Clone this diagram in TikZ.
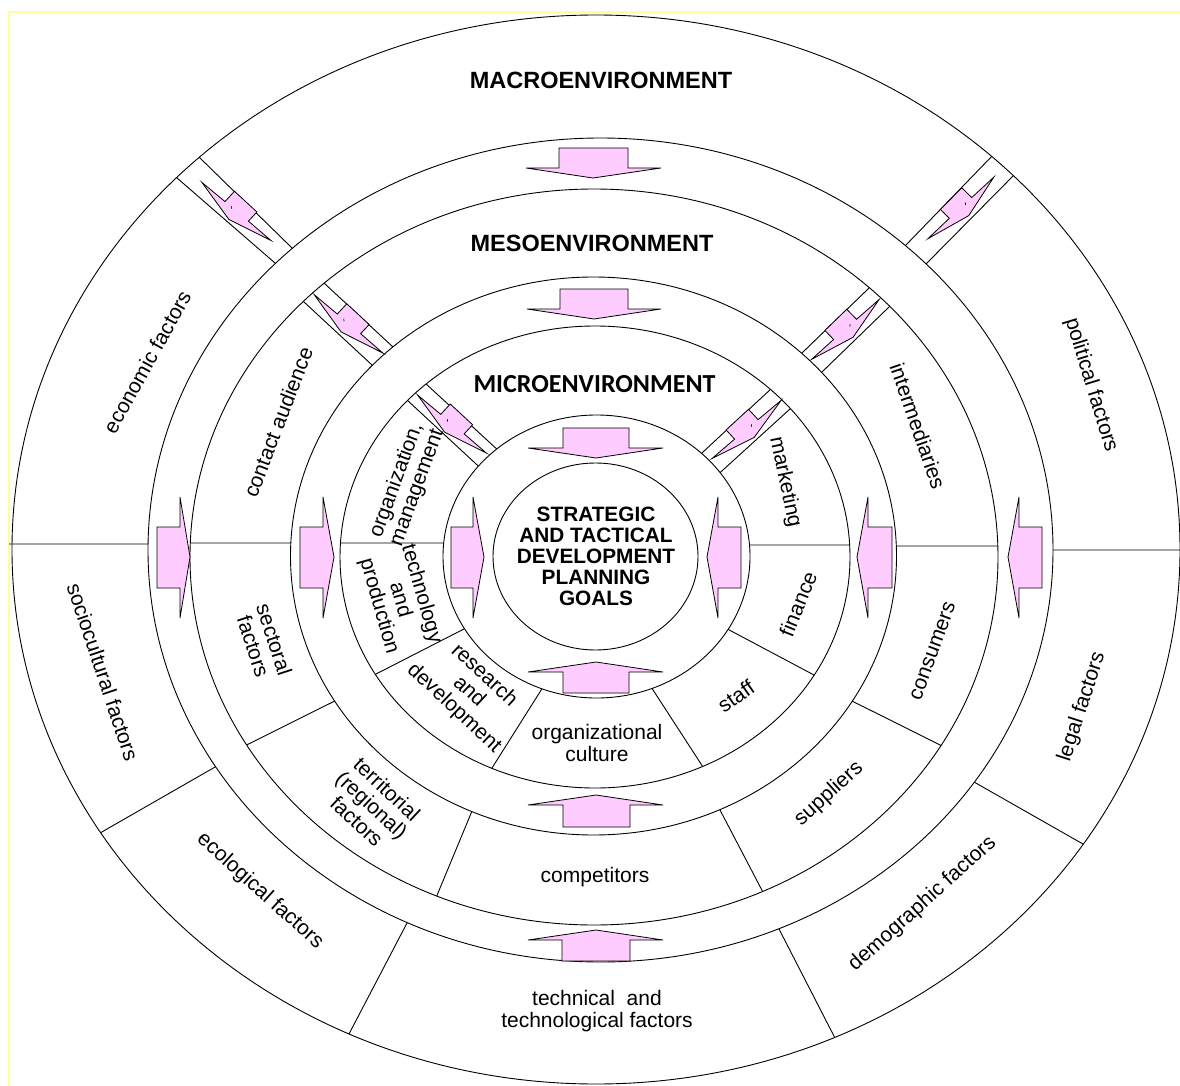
\documentclass[tikz,border=0pt]{standalone}
\usepackage{fontspec}
\setmainfont{Liberation Sans}
\newfontfamily\carlitofont{Carlito}
\usetikzlibrary{calc,intersections}
\definecolor{pinkfill}{HTML}{FFCCFF}
\definecolor{frameyellow}{HTML}{FFFF99}
\tikzset{
  ringline/.style={line width=0.9pt, draw=black},
  pinkarrow/.style={fill=pinkfill, draw=black, line width=0.8pt, line join=miter},
  lbl/.style={font=\fontsize{21}{22}\selectfont, align=center, inner sep=0pt},
  envlbl/.style={font=\fontsize{23.5}{24}\selectfont\bfseries, inner sep=0pt},
  microlbl/.style={font=\carlitofont\fontsize{26}{26}\selectfont\bfseries, inner sep=0pt},
  ctrlbl/.style={font=\fontsize{20.8}{21}\selectfont\bfseries, align=center, inner sep=0pt},
}
\newcommand{\ringseg}[4]{%
  \path[name path=segtmp] ($(#3)!-0.3!(#4)$) -- ($(#3)!1.3!(#4)$);
  \path[name intersections={of=#1 and segtmp, by=sgA}];
  \path[name intersections={of=#2 and segtmp, by=sgB}];
  \draw[ringline] (sgA) -- (sgB);%
}
\newcommand{\bolt}[4]{%
  \begin{scope}[shift={(#1,#2)}, rotate=#3, yscale=#4]
    \draw[pinkarrow] (-45,-1.5) -- (-15,0) -- (-15,14) -- (15.5,14) -- (15.5,1.5) -- (45,2.5) -- (0,-10.5) -- cycle;
    \draw[line width=0.7pt] (-7,1) -- ++(-43:2.5);
  \end{scope}%
}
\begin{document}
\begin{tikzpicture}[x=1pt,y=-1pt]
\useasboundingbox (0,0) rectangle (1180,1086);
\fill[white] (0,0) rectangle (1180,1086);
\draw[frameyellow, line width=2pt] (9,1095) -- (9,12.5) -- (1190,12.5);

% rings
\draw[ringline, name path=R1] (596,549.5) ellipse [x radius=584, y radius=534.5];
\draw[ringline, name path=R2] (600.5,550) ellipse [x radius=452.5, y radius=412];
\draw[ringline, name path=R3] (594,557) ellipse [x radius=404, y radius=368];
\draw[ringline, name path=R4] (593.5,556) ellipse [x radius=303, y radius=279];
\draw[ringline, name path=R5] (595,557) ellipse [x radius=255, y radius=231];
\draw[ringline, name path=R6] (596.5,556.5) ellipse [x radius=153.5, y radius=141.5];
\draw[ringline, name path=R7] (595.5,556.5) ellipse [x radius=102.5, y radius=93.5];

% macro ring dividers
\path[name path=hL] (9,544) -- (250,544);
\path[name intersections={of=R2 and hL, by=hLi}];
\draw[ringline] (9,544) -- (hLi);
\path[name path=hR] (900,550) -- (1180,550);
\path[name intersections={of=R2 and hR, by=hRi}];
\draw[ringline] (hRi) -- (1180,550);
\ringseg{R2}{R1}{177,178}{275,263}
\ringseg{R2}{R1}{200,158}{292,248}
\ringseg{R2}{R1}{995,153}{906,245}
\ringseg{R2}{R1}{1017,172}{927,263}
\ringseg{R2}{R1}{100,833}{215.6,766.7}
\ringseg{R2}{R1}{348.3,1035.3}{407,923}
\ringseg{R2}{R1}{837,1042}{780,931}
\ringseg{R2}{R1}{1090,848}{974,782}

% meso ring dividers
\ringseg{R4}{R3}{190,543}{291,543}
\ringseg{R4}{R3}{998,546}{896,546}
\ringseg{R4}{R3}{304,302}{372,365}
\ringseg{R4}{R3}{324,283}{393,347}
\ringseg{R4}{R3}{869,288}{802,353}
\ringseg{R4}{R3}{890,306}{822,372}
\ringseg{R4}{R3}{246.5,745}{333.3,701.7}
\ringseg{R4}{R3}{436.5,896.5}{471.7,811.7}
\ringseg{R4}{R3}{762.6,891.5}{720,810}
\ringseg{R4}{R3}{941,745.4}{853.3,701.7}

% micro ring dividers
\ringseg{R6}{R5}{340,543}{443,543}
\ringseg{R6}{R5}{850,545}{750,545}
\ringseg{R6}{R5}{407,400}{475,463}
\ringseg{R6}{R5}{425,383}{500,452}
\ringseg{R6}{R5}{772,388}{703,452}
\ringseg{R6}{R5}{790,409}{723,470}
\ringseg{R6}{R5}{378,673}{460,631}
\ringseg{R6}{R5}{492,768}{538,695}
\ringseg{R6}{R5}{703,767}{655,693}
\ringseg{R6}{R5}{814,675}{733,632}

% block arrows, band between R2 and R3
\draw[pinkarrow] (559,148) -- (628,148) -- (628,168) -- (661,168) -- (593,178) -- (526,168) -- (559,168) -- cycle;
\draw[pinkarrow] (562,961) -- (630,961) -- (630,940) -- (663,940) -- (596,930) -- (528,940) -- (562,940) -- cycle;
\draw[pinkarrow] (157,527) -- (180,527) -- (180,497) -- (190,557) -- (180,618) -- (180,588) -- (157,588) -- cycle;
\draw[pinkarrow] (1042,527) -- (1019,527) -- (1019,497) -- (1008,557) -- (1019,618) -- (1019,588) -- (1042,588) -- cycle;
% band between R4 and R5
\draw[pinkarrow] (560,289) -- (628,289) -- (628,309) -- (661,309) -- (594,319) -- (527,309) -- (560,309) -- cycle;
\draw[pinkarrow] (563,827) -- (630,827) -- (630,805) -- (663,805) -- (596,795) -- (528,805) -- (563,805) -- cycle;
\draw[pinkarrow] (300,527) -- (323,527) -- (323,497) -- (334,557) -- (323,618) -- (323,588) -- (300,588) -- cycle;
\draw[pinkarrow] (892,527) -- (868,527) -- (868,497) -- (857,557) -- (868,618) -- (868,588) -- (892,588) -- cycle;
% band between R6 and R7
\draw[pinkarrow] (563,428) -- (629,428) -- (629,448) -- (663,448) -- (596,458) -- (528,448) -- (563,448) -- cycle;
\draw[pinkarrow] (563,693) -- (629,693) -- (629,672) -- (663,672) -- (596,662) -- (528,672) -- (563,672) -- cycle;
\draw[pinkarrow] (451,527) -- (473,527) -- (473,497) -- (484,557) -- (473,618) -- (473,588) -- (451,588) -- cycle;
\draw[pinkarrow] (741,527) -- (718,527) -- (718,497) -- (707,557) -- (718,618) -- (718,588) -- (741,588) -- cycle;

% lightning arrows in diagonal bands
\bolt{236}{211.75}{-42.6}{-1}
\bolt{961.25}{208.25}{-134.4}{1}
\bolt{348.25}{324.25}{-42.9}{-1}
\bolt{845.75}{329.75}{-135.9}{1}
\bolt{451.75}{424.5}{-42.7}{-1}
\bolt{747}{429.75}{-137.4}{1}

% titles
\node[envlbl] (macro) at (601,80.5) {MACROENVIRONMENT};
\node[envlbl] (meso) at (592,243) {MESOENVIRONMENT};
\node[microlbl] (micro) at (594.5,384) {MICROENVIRONMENT};
\node[ctrlbl] (goals) at (596,556) {STRATEGIC\\AND TACTICAL\\DEVELOPMENT\\PLANNING\\GOALS};

% macro factors
\node[lbl, rotate=61] (econ) at (147,362) {economic factors};
\node[lbl, rotate=-71.5] (socio) at (103,672) {sociocultural factors};
\node[lbl, rotate=-42] (eco) at (260,891) {ecological factors};
\node[lbl] (tech) at (597,1011) {technical\ \ and\\technological factors};
\node[lbl, rotate=42] (demo) at (922.5,904) {demographic factors};
\node[lbl, rotate=72] (legal) at (1082,707) {legal factors};
\node[lbl, rotate=-73] (polit) at (1091,385) {political factors};

% meso factors
\node[lbl, rotate=69] (contact) at (278,422) {contact audience};
\node[lbl, rotate=-72] (sect) at (264,643) {sectoral\\factors};
\node[lbl, rotate=-43] (terr) at (372,805) {territorial\\(regional)\\factors};
\node[lbl] (comp) at (595,877) {competitors};
\node[lbl, rotate=42] (supp) at (829,794) {suppliers};
\node[lbl, rotate=70] (cons) at (933,651) {consumers};
\node[lbl, rotate=-71] (inter) at (918,426) {intermediaries};

% micro factors
\node[lbl, rotate=70] (orgm) at (407,484) {organization,\\management};
\node[lbl, rotate=-78] (mkt) at (785,482) {marketing};
\node[lbl, rotate=68] (fin) at (798,604) {finance};
\node[lbl, rotate=35] (staff) at (736,696) {staff};
\node[lbl] (culture) at (597,743) {organizational\\culture};
\node[lbl, rotate=-43] (rnd) at (469,692) {research\\and\\development};
\node[lbl, rotate=-74] (techprod) at (400,600) {technology\\and\\production};
\end{tikzpicture}
\end{document}
